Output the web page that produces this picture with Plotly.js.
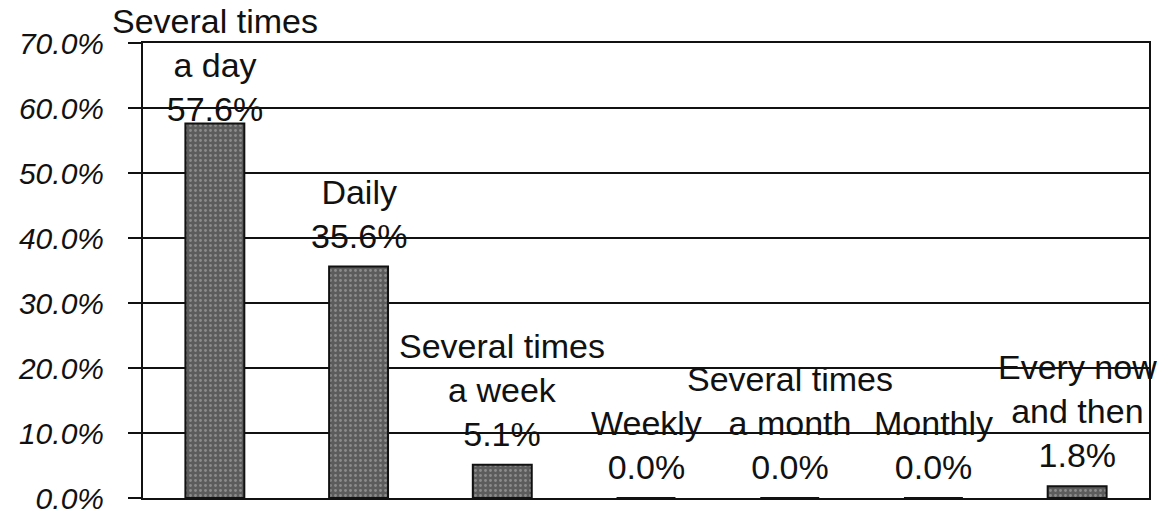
<!DOCTYPE html>
<html>
<head>
<meta charset="utf-8">
<script src="https://cdn.plot.ly/plotly-3.0.1.min.js"></script>
<style>html,body{margin:0;padding:0;background:#fff}#chart{width:1169px;height:513px}</style>
</head>
<body>
<div id="chart"></div>
<script>
var categories = ["Several times a day","Daily","Several times a week","Weekly","Several times a month","Monthly","Every now and then"];
var labelLines = ["Several times<br>a day","Daily","Several times<br>a week","Weekly","Several times<br>a month","Monthly","Every now<br>and then"];
var values = [57.6, 35.6, 5.1, 0.0, 0.0, 0.0, 1.8];
var yTickVals = [0,10,20,30,40,50,60,70];
var yTickText = ["0.0%","10.0%","20.0%","30.0%","40.0%","50.0%","60.0%","70.0%"];

var FONT = "Liberation Sans, Arial, sans-serif";

var trace = {
  type: "bar",
  x: categories,
  y: values,
  width: 0.41,
  marker: {
    color: "#5c5c5c",
    line: {color: "#111", width: 2},
    pattern: {shape: ".", bgcolor: "#5c5c5c", fgcolor: "#8c8c8c", size: 5, solidity: 0.25}
  },
  hoverinfo: "skip"
};

var annotations = categories.map(function(c, i){
  var shift = 10;
  if (values[i] > 50) shift = -6;
  return {
    x: c, y: values[i], xref: "x", yref: "y",
    text: labelLines[i] + "<br>" + values[i].toFixed(1) + "%",
    showarrow: false, yanchor: "bottom", xanchor: "center",
    yshift: shift,
    font: {family: FONT, size: 34, color: "#111"}
  };
});

var layout = {
  width: 1169, height: 513,
  margin: {l: 143, r: 20, t: 43, b: 15},
  paper_bgcolor: "#fff", plot_bgcolor: "#fff",
  showlegend: false,
  xaxis: {
    type: "category", range: [-0.5, 6.5], autorange: false,
    showticklabels: false, ticks: "", showgrid: false,
    showline: true, linecolor: "#111", linewidth: 2, mirror: true,
    zeroline: false, fixedrange: true
  },
  yaxis: {
    range: [0, 70], autorange: false, tickvals: yTickVals, ticktext: yTickText,
    showgrid: true, gridcolor: "#111", gridwidth: 2,
    ticks: "outside", ticklen: 13, tickwidth: 2, tickcolor: "#111",
    ticklabelstandoff: 18, ticklabeloverflow: "allow",
    showline: true, linecolor: "#111", linewidth: 2, mirror: true,
    zeroline: false,
    tickfont: {family: FONT, size: 30, color: "#111", style: "italic"}
  },
  annotations: annotations
};

Plotly.newPlot("chart", [trace], layout, {displayModeBar: false, staticPlot: true});
</script>
</body>
</html>
